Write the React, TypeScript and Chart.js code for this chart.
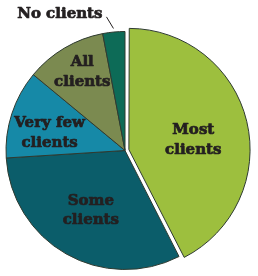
import { useEffect, useRef } from "react";
import { Chart, registerables } from "chart.js";

Chart.register(...registerables);

const categories = ["Most clients", "Some clients", "Very few clients", "All clients", "No clients"];
const shares = [42.5, 31.5, 12, 11, 3];
const sliceColors = ["#9dbf3e", "#0b5d6a", "#1689a7", "#7b8a50", "#0d6b57"];
const sliceOffsets = [16, 0, 0, 0, 0];

// label layout (style)
const labelRadius = [0.58, 0.58, 0.65, 0.75, 1.03];
const labelAngleShift = [5, 0, -5, 2, 0];
const outsideLabel = [false, false, false, false, true];
const TEXT = "#231f20";
const FONT = "bold 15px 'DejaVu Serif'";
const LINE_GAP = 19.5;

function splitLabel(s: string): string[] {
  const i = s.lastIndexOf(" ");
  return i < 0 ? [s] : [s.slice(0, i), s.slice(i + 1)];
}

function boldText(ctx: CanvasRenderingContext2D, t: string, x: number, y: number) {
  ctx.lineWidth = 0.7;
  ctx.strokeText(t, x, y);
  ctx.fillText(t, x, y);
}

const labelPlugin = {
  id: "sliceLabels",
  afterDatasetsDraw(chart: any) {
    const ctx = chart.ctx as CanvasRenderingContext2D;
    const meta = chart.getDatasetMeta(0);
    ctx.save();
    ctx.font = FONT;
    ctx.fillStyle = TEXT;
    ctx.strokeStyle = TEXT;
    ctx.lineJoin = "round";
    ctx.textBaseline = "middle";
    meta.data.forEach((arc: any, i: number) => {
      const { x, y, startAngle, endAngle, outerRadius } = arc.getProps(
        ["x", "y", "startAngle", "endAngle", "outerRadius"],
        true
      );
      const mid = (startAngle + endAngle) / 2 + (labelAngleShift[i] * Math.PI) / 180;
      const px = x + Math.cos(mid) * outerRadius * labelRadius[i];
      const py = y + Math.sin(mid) * outerRadius * labelRadius[i];
      if (outsideLabel[i]) {
        const ex = px - 7;
        const ey = py - 11.6;
        ctx.lineWidth = 1;
        ctx.beginPath();
        ctx.moveTo(px, py);
        ctx.lineTo(ex, ey);
        ctx.stroke();
        ctx.textAlign = "right";
        boldText(ctx, categories[i], ex - 4, ey - 2.7);
        return;
      }
      ctx.textAlign = "center";
      const lines = splitLabel(categories[i]);
      lines.forEach((ln, k) => {
        boldText(ctx, ln, px, py + (k - (lines.length - 1) / 2) * LINE_GAP);
      });
    });
    ctx.restore();
  },
};

export default function App() {
  const ref = useRef<HTMLCanvasElement | null>(null);
  useEffect(() => {
    document.body.style.margin = "0";
    const canvas = ref.current;
    if (!canvas) return;
    const chart = new Chart(canvas, {
      type: "pie",
      data: {
        labels: categories,
        datasets: [
          {
            data: shares,
            backgroundColor: sliceColors,
            borderColor: "#2e3a30",
            borderWidth: 1,
            offset: sliceOffsets,
          },
        ],
      },
      options: {
        responsive: false,
        animation: false,
        radius: 119,
        layout: { padding: { left: 0, right: 8, top: 25, bottom: 0 } },
        plugins: {
          legend: { display: false },
          tooltip: { enabled: false },
        },
      } as any,
      plugins: [labelPlugin],
    });
    return () => chart.destroy();
  }, []);
  return (
    <div style={{ position: "absolute", left: 0, top: 0, width: 258, height: 276, background: "#fff" }}>
      <canvas ref={ref} width={258} height={276} style={{ width: 258, height: 276, display: "block" }} />
    </div>
  );
}
